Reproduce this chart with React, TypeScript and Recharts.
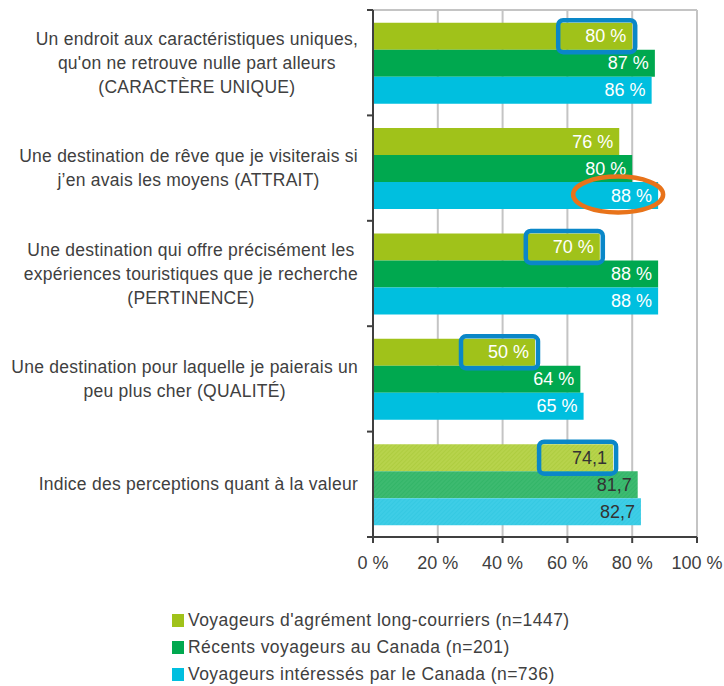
import React from 'react';
import { BarChart, Bar, XAxis, YAxis, CartesianGrid, LabelList, Cell, Legend } from 'recharts';

const categories = [
  "Un endroit aux caractéristiques uniques,|qu'on ne retrouve nulle part alleurs|(CARACTÈRE UNIQUE)",
  "Une destination de rêve que je visiterais si|j’en avais les moyens (ATTRAIT)",
  "Une destination qui offre précisément les|expériences touristiques que je recherche|(PERTINENCE)",
  "Une destination pour laquelle je paierais un|peu plus cher (QUALITÉ)",
  "Indice des perceptions quant à la valeur",
];
const longHaul = [80, 76, 70, 50, 74.1];
const recentCanada = [87, 80, 88, 64, 81.7];
const interestedCanada = [86, 88, 88, 65, 82.7];
const xTicks = [0, 20, 40, 60, 80, 100];
const seriesNames = [
  "Voyageurs d'agrément long-courriers (n=1447)",
  'Récents voyageurs au Canada (n=201)',
  'Voyageurs intéressés par le Canada (n=736)',
];
const isIndexRow = [false, false, false, false, true];
const boxedLongHaul = [true, false, true, true, true];
const circledInterested = [false, true, false, false, false];

const COLORS = ['#a0c21a', '#00a84f', '#00bfdf'];
const LIGHT = ['#b7d34c', '#3dba70', '#3ecde6'];
const HATCH = ['#a9c938', '#2cb262', '#2fc6e0'];
const KEYS = ['longHaul', 'recentCanada', 'interestedCanada'];
const FONT = '"Liberation Sans", Arial, sans-serif';
const TEXT = '#404040';
const CAT_SIZE = 17.5;
const CAT_SPACING = 0.25;

const data = categories.map((c, i) => ({
  category: c,
  longHaul: longHaul[i],
  recentCanada: recentCanada[i],
  interestedCanada: interestedCanada[i],
}));

let ctx: any = null;
const measure = (s: string) => {
  if (!ctx) {
    ctx = document.createElement('canvas').getContext('2d');
  }
  ctx.font = `${CAT_SIZE}px ${FONT}`;
  return ctx.measureText(s).width + CAT_SPACING * s.length;
};

const YTick = (props: any) => {
  const { x, y, payload, index } = props;
  const half = payload && payload.offset ? payload.offset : 52.7;
  const lines: string[] = String(payload.value).split('|');
  const maxW = Math.max(...lines.map(measure));
  const cx = x - 15 - maxW / 2;
  const y0 = y - (lines.length - 1) * 12;
  return (
    <g>
      <line x1={x - 6} x2={x} y1={y - half} y2={y - half} stroke={TEXT} strokeWidth={2} />
      {index === categories.length - 1 && (
        <line x1={x - 6} x2={x} y1={y + half} y2={y + half} stroke={TEXT} strokeWidth={2} />
      )}
      <text
        x={cx}
        y={y0}
        textAnchor="middle"
        dominantBaseline="central"
        fill={TEXT}
        fontSize={CAT_SIZE}
        fontFamily={FONT}
        style={{ letterSpacing: CAT_SPACING }}
      >
        {lines.map((l, i) => (
          <tspan key={i} x={cx} dy={i === 0 ? 0 : 24}>
            {l}
          </tspan>
        ))}
      </text>
    </g>
  );
};

const fmt = (v: number, i: number) => (isIndexRow[i] ? String(v).replace('.', ',') : `${v} %`);

const makeLabel = (s: number) => (props: any) => {
  const vb = props.viewBox && props.viewBox.width !== undefined ? props.viewBox : props;
  const { x, y, width, height } = vb;
  const index = props.index;
  const value = props.value;
  const end = x + width;
  const cy = y + height / 2;
  const dark = isIndexRow[index];
  return (
    <g>
      {s === 0 && boxedLongHaul[index] && (
        <rect x={end - 74} y={y - 2.5} width={77} height={height + 5} rx={5} ry={5} fill="none" stroke="#0a87c8" strokeWidth={4.5} />
      )}
      {s === 2 && circledInterested[index] && (
        <ellipse cx={end - 40} cy={cy - 1} rx={45} ry={18} fill="none" stroke="#e8731a" strokeWidth={4.5} />
      )}
      <text x={end - 6} y={cy} textAnchor="end" dominantBaseline="central" fill={dark ? '#333333' : '#ffffff'} fontSize={18} fontFamily={FONT}>
        {fmt(value, index)}
      </text>
    </g>
  );
};

const LegendContent = () => (
  <div style={{ fontFamily: FONT, fontSize: 17.5, color: TEXT, letterSpacing: 0.45 }}>
    {seriesNames.map((n, i) => (
      <div key={n} style={{ display: 'flex', alignItems: 'center', height: 27, whiteSpace: 'nowrap' }}>
        <span style={{ display: 'inline-block', width: 12, height: 13, background: COLORS[i], marginRight: 4 }} />
        <span>{n}</span>
      </div>
    ))}
  </div>
);

export default function App() {
  return (
    <div style={{ position: 'absolute', left: 0, top: 0, width: 724, height: 686, background: '#fff' }}>
      <BarChart
        width={724}
        height={686}
        data={data}
        layout="vertical"
        margin={{ top: 10, right: 27, bottom: 109, left: 0 }}
        barCategoryGap="12%"
        barGap={0}
      >
        <defs>
          {LIGHT.map((c, i) => (
            <pattern key={i} id={`hatch${i}`} width={3} height={3} patternUnits="userSpaceOnUse" patternTransform="rotate(45)">
              <rect width={3} height={3} fill={c} />
              <line x1={0} y1={0} x2={0} y2={3} stroke={HATCH[i]} strokeWidth={1.2} />
            </pattern>
          ))}
        </defs>
        <CartesianGrid
          stroke="#c4c4c4"
          strokeWidth={2}
          horizontal={true}
          vertical={true}
          horizontalCoordinatesGenerator={(p: any) => [p.offset.top]}
          verticalCoordinatesGenerator={(p: any) => {
            const { left, width } = p.offset;
            return xTicks.filter((t) => t > 0).map((t) => left + (width * t) / 100);
          }}
        />
        <XAxis
          type="number"
          domain={[0, 100]}
          ticks={xTicks}
          tickFormatter={(v: number) => `${v} %`}
          tick={{ fill: TEXT, fontSize: 18, fontFamily: FONT }}
          axisLine={{ stroke: TEXT, strokeWidth: 2 }}
          tickLine={{ stroke: TEXT, strokeWidth: 2 }}
          tickSize={6}
          tickMargin={13}
          height={40}
          interval={0}
        />
        <YAxis
          type="category"
          dataKey="category"
          width={373}
          tick={<YTick />}
          tickLine={false}
          tickSize={0}
          tickMargin={0}
          axisLine={{ stroke: TEXT, strokeWidth: 2 }}
          interval={0}
        />
        {KEYS.map((k, s) => (
          <Bar key={k} dataKey={k} name={seriesNames[s]} fill={COLORS[s]} isAnimationActive={false}>
            {data.map((_, i) => (
              <Cell key={i} fill={isIndexRow[i] ? `url(#hatch${s})` : COLORS[s]} />
            ))}
            <LabelList dataKey={k} content={makeLabel(s)} />
          </Bar>
        ))}
        <Legend
          layout="horizontal"
          align="center"
          verticalAlign="middle"
          content={<LegendContent />}
          wrapperStyle={{ position: 'absolute', top: 607, left: 172, width: 480, height: 81 }}
        />
      </BarChart>
    </div>
  );
}
